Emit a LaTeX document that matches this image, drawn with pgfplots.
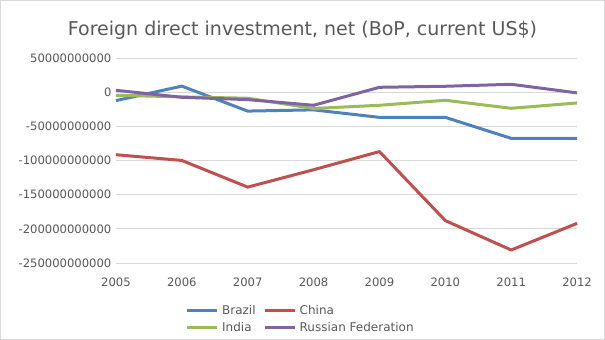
\documentclass[border=0pt]{standalone}
\usepackage{pgfplots}
\pgfplotsset{compat=1.18}
\usepackage{fontspec}
\setmainfont{DejaVu Sans}
\definecolor{cBrazil}{HTML}{4F81BD}
\definecolor{cChina}{HTML}{C0504D}
\definecolor{cIndia}{HTML}{9BBB59}
\definecolor{cRussia}{HTML}{8064A2}
\definecolor{txt}{HTML}{595959}
\definecolor{grd}{HTML}{D9D9D9}
\begin{document}
\begin{tikzpicture}[x=1bp,y=1bp]
\path[draw=grd,line width=0.75bp] (0.5,0.5) rectangle (604.5,339.5);
\node[text=txt,font=\fontsize{19bp}{22bp}\selectfont] at (302.5,310) {Foreign direct investment, net (BoP, current US\$)};
\begin{axis}[
  at={(116bp,77bp)}, anchor=south west,
  scale only axis, width=461bp, height=205bp,
  xmin=2005, xmax=2012, ymin=-250, ymax=50,
  xtick={2005,...,2012},
  xticklabels={2005,2006,2007,2008,2009,2010,2011,2012},
  ytick={-250,-200,-150,-100,-50,0,50},
  yticklabels={-250000000000,-200000000000,-150000000000,-100000000000,-50000000000,0,50000000000},
  ymajorgrids, major grid style={grd, line width=0.75bp},
  axis x line*=bottom, axis y line*=left,
  x axis line style={grd, line width=0.75bp, -},
  y axis line style={draw=none},
  major tick length=0pt,
  tick label style={text=txt, font=\fontsize{11.6bp}{14bp}\selectfont},
  xticklabel style={yshift=-11bp},
  yticklabel style={xshift=-1bp},
  clip=false,
  legend columns=2,
  legend cell align=left,
  legend style={at={(0.4,-0.273)}, anchor=center, draw=none, fill=none,
    font=\fontsize{12bp}{14bp}\selectfont, text=txt,
    /tikz/every even column/.append style={column sep=6bp},
    /tikz/every odd column/.append style={column sep=2bp},
    nodes={inner sep=1.5bp},
    row sep=3bp},
  legend image code/.code={\draw[#1, line width=3bp] (0bp,0bp) -- (30bp,0bp);},
  every axis plot/.append style={line width=3bp, line join=round, mark=none},
]
\addplot[cBrazil] coordinates {(2005,-12.5) (2006,8.7) (2007,-27.8) (2008,-26) (2009,-37) (2010,-37) (2011,-67.7) (2012,-67.8)};
\addlegendentry{Brazil}
\addplot[cChina] coordinates {(2005,-91.6) (2006,-100) (2007,-139) (2008,-113.6) (2009,-87) (2010,-188) (2011,-231) (2012,-192)};
\addlegendentry{China}
\addplot[cIndia] coordinates {(2005,-4.7) (2006,-7) (2007,-9) (2008,-24) (2009,-19.3) (2010,-12) (2011,-23.7) (2012,-15.9)};
\addlegendentry{India}
\addplot[cRussia] coordinates {(2005,2.6) (2006,-7.6) (2007,-11) (2008,-19.3) (2009,7) (2010,8.5) (2011,11.4) (2012,-1.2)};
\addlegendentry{Russian Federation}
\end{axis}
\end{tikzpicture}
\end{document}
